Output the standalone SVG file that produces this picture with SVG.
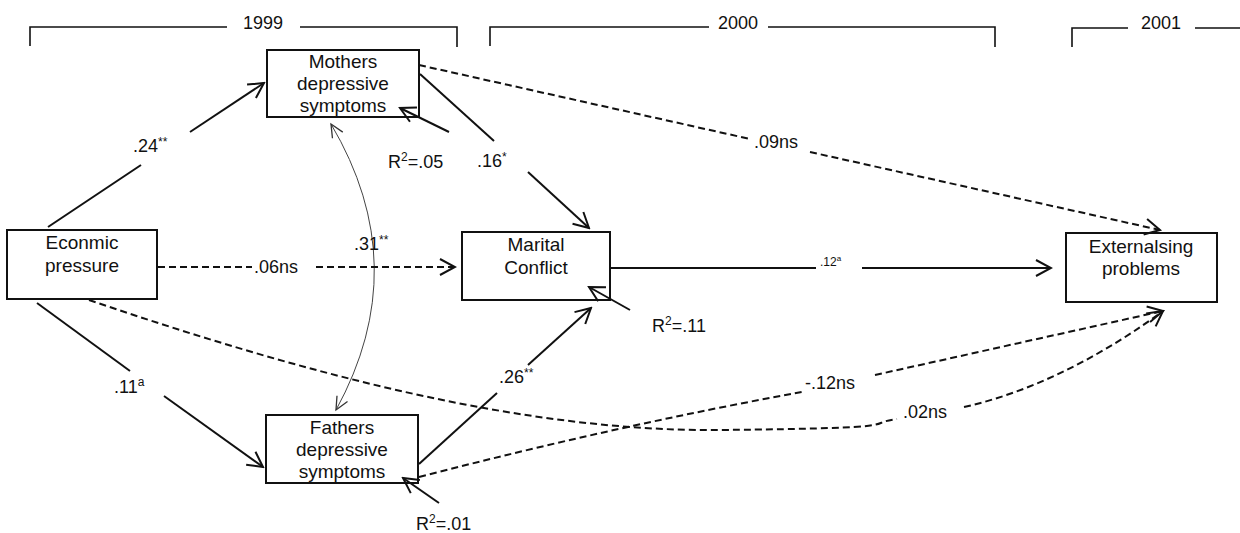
<svg xmlns="http://www.w3.org/2000/svg" width="1240" height="533" viewBox="0 0 1240 533">
  <style>
    text { font-family: "Liberation Sans", Arial, sans-serif; font-size: 19px; fill: #111; }
    .lbl { font-size: 18px; }
    .yr { font-size: 18px; }
    .sm { font-size: 12px; }
    .box { fill: #fff; stroke: #111; stroke-width: 2; }
    .solid { fill: none; stroke: #111; stroke-width: 2; }
    .dash { fill: none; stroke: #111; stroke-width: 2; stroke-dasharray: 7 4; }
    .thin { fill: none; stroke: #444; stroke-width: 1; }
    .bracket { fill: none; stroke: #111; stroke-width: 1.6; }
  </style>
  <defs>
    <marker id="arrow" markerUnits="userSpaceOnUse" viewBox="-18 -10 20 20" markerWidth="20" markerHeight="20" refX="0" refY="0" orient="auto">
      <path d="M-15,-8 L0,0 L-15,8" fill="none" stroke="#111" stroke-width="2" stroke-dasharray="none"/>
    </marker>
    <marker id="arrowThin" markerUnits="userSpaceOnUse" viewBox="-16 -10 18 20" markerWidth="18" markerHeight="20" refX="0" refY="0" orient="auto-start-reverse">
      <path d="M-13,-6 L0,0 L-13,6" fill="none" stroke="#333" stroke-width="1.3"/>
    </marker>
  </defs>

  <!-- wave brackets -->
  <g id="years">
    <path class="bracket" d="M30,46 V27 H227 M300,27 H457 V47"/>
    <text class="yr" x="263" y="29" text-anchor="middle">1999</text>
    <path class="bracket" d="M490,46 V27 H709 M768,27 H995 V47"/>
    <text class="yr" x="738" y="29" text-anchor="middle">2000</text>
    <path class="bracket" d="M1072,47 V28 H1128 M1195,28 H1240"/>
    <text class="yr" x="1161" y="29" text-anchor="middle">2001</text>
  </g>

  <g id="economic-pressure">
    <rect class="box" x="7" y="230" width="150" height="69"/>
    <text x="82" y="249" text-anchor="middle">Econmic</text>
    <text x="82" y="272" text-anchor="middle">pressure</text>
  </g>

  <g id="mothers-depressive">
    <rect class="box" x="267" y="50" width="152" height="67"/>
    <text x="343" y="68" text-anchor="middle">Mothers</text>
    <text x="343" y="90" text-anchor="middle">depressive</text>
    <text x="343" y="112" text-anchor="middle">symptoms</text>
  </g>

  <g id="fathers-depressive">
    <rect class="box" x="266" y="415" width="152" height="68"/>
    <text x="342" y="434" text-anchor="middle">Fathers</text>
    <text x="342" y="456" text-anchor="middle">depressive</text>
    <text x="342" y="478" text-anchor="middle">symptoms</text>
  </g>

  <g id="marital-conflict">
    <rect class="box" x="462" y="232" width="148" height="68"/>
    <text x="536" y="251" text-anchor="middle">Marital</text>
    <text x="536" y="274" text-anchor="middle">Conflict</text>
  </g>

  <g id="externalising">
    <rect class="box" x="1066" y="233" width="151" height="69"/>
    <text x="1141" y="253" text-anchor="middle">Externalsing</text>
    <text x="1141" y="275" text-anchor="middle">problems</text>
  </g>

  <!-- paths between variables -->
  <g id="connectors">
    <!-- economic pressure -> mothers -->
    <path class="solid" d="M48,227 L141,165"/>
    <path class="solid" d="M190,132 L264,83" marker-end="url(#arrow)"/>
    <text class="lbl" x="133" y="152">.24<tspan class="sm" dy="-6">**</tspan></text>

    <!-- mothers -> marital conflict -->
    <path class="solid" d="M420,74 L494,141"/>
    <path class="solid" d="M528,172 L589,228" marker-end="url(#arrow)"/>
    <text class="lbl" x="477" y="167">.16<tspan class="sm" dy="-6">*</tspan></text>

    <!-- residual mothers -->
    <path class="solid" d="M449,132 L400,108" marker-end="url(#arrow)"/>
    <text class="lbl" x="388" y="168">R<tspan class="sm" dy="-7">2</tspan><tspan dy="7">=.05</tspan></text>

    <!-- mothers <-> fathers covariance -->
    <path class="thin" d="M331,124 Q415,266 336,410" marker-start="url(#arrowThin)" marker-end="url(#arrowThin)"/>
    <text class="lbl" x="354" y="250">.31<tspan class="sm" dy="-6">**</tspan></text>

    <!-- economic pressure -> marital conflict -->
    <path class="dash" d="M158,267 L252,267"/>
    <path class="dash" d="M316,267 L455,267" marker-end="url(#arrow)"/>
    <text class="lbl" x="254" y="273">.06ns</text>

    <!-- marital conflict -> externalising -->
    <path class="solid" d="M610,268 L816,268"/>
    <path class="solid" d="M862,268 L1051,268" marker-end="url(#arrow)"/>
    <text class="sm" x="820" y="266">.12<tspan font-size="8" dy="-5">a</tspan></text>

    <!-- residual marital conflict -->
    <path class="solid" d="M630,310 L589,287" marker-end="url(#arrow)"/>
    <text class="lbl" x="652" y="332">R<tspan class="sm" dy="-7">2</tspan><tspan dy="7">=.11</tspan></text>

    <!-- fathers -> marital conflict -->
    <path class="solid" d="M419,464 L497,393"/>
    <path class="solid" d="M528,365 L591,308" marker-end="url(#arrow)"/>
    <text class="lbl" x="499" y="383">.26<tspan class="sm" dy="-6">**</tspan></text>

    <!-- economic pressure -> fathers -->
    <path class="solid" d="M37,303 L130,371"/>
    <path class="solid" d="M164,396 L263,467" marker-end="url(#arrow)"/>
    <text class="lbl" x="114" y="393">.11<tspan class="sm" dy="-7">a</tspan></text>

    <!-- residual fathers -->
    <path class="solid" d="M439,503 L403,478" marker-end="url(#arrow)"/>
    <text class="lbl" x="416" y="530">R<tspan class="sm" dy="-7">2</tspan><tspan dy="7">=.01</tspan></text>

    <!-- mothers -> externalising -->
    <path class="dash" d="M419,65 L750,139"/>
    <path class="dash" d="M810,152 L1160,230" marker-end="url(#arrow)"/>
    <text class="lbl" x="754" y="148">.09ns</text>

    <!-- economic pressure -> externalising -->
    <path class="dash" d="M89,300 C300,372 520,432 720,430 S860,424 897,419"/>
    <path class="dash" d="M964,407 C1040,390 1110,350 1163,311" marker-end="url(#arrow)"/>
    <text class="lbl" x="903" y="418">.02ns</text>

    <!-- fathers -> externalising -->
    <path class="dash" d="M419,477 Q620,425 802,392"/>
    <path class="dash" d="M875,375 L1163,311" marker-end="url(#arrow)"/>
    <text class="lbl" x="805" y="389">-.12ns</text>
  </g>
</svg>
